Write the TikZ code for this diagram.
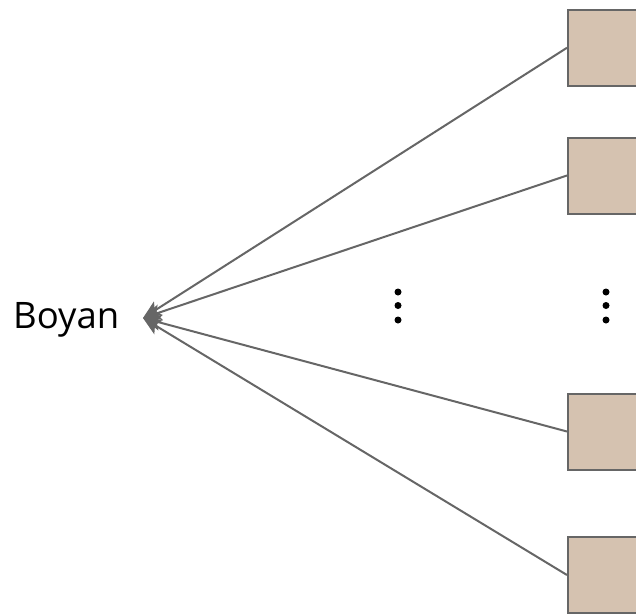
\documentclass[tikz,border=0pt]{standalone}
\usepackage{fontspec}
\setmainfont{Open Sans}
\usetikzlibrary{arrows.meta}
\definecolor{linegray}{HTML}{666666}
\definecolor{boxfill}{HTML}{D5C2B0}
\tikzset{
  itembox/.style={draw=linegray, line width=2pt, fill=boxfill, minimum width=76pt, minimum height=76pt, inner sep=0pt},
  link/.style={draw=linegray, line width=2pt, -{Stealth[length=18pt,width=16pt,inset=4pt,fill=linegray]}},
  vdot/.style={circle, fill=black, inner sep=0pt, minimum size=7pt}
}
\begin{document}
\begin{tikzpicture}[x=1pt,y=-1pt]
\useasboundingbox (0,0) rectangle (636,614);
\node[itembox] (b1) at (606,47.75) {};
\node[itembox] (b2) at (606,175.5) {};
\node[itembox] (b3) at (606,431.5) {};
\node[itembox] (b4) at (606,575) {};
\node[anchor=base west, inner sep=0pt, font=\fontsize{36.5}{40}\selectfont] (boyan) at (13,328.5) {Boyan};
\coordinate (tip) at (143,318);
\draw[link] (b1.west) -- (tip);
\draw[link] (b2.west) -- (tip);
\draw[link] (b3.west) -- (tip);
\draw[link] (b4.west) -- (tip);
\node[vdot] (d1) at (398,292) {};
\node[vdot] (d2) at (398,305.5) {};
\node[vdot] (d3) at (398,320) {};
\node[vdot] (e1) at (606,292) {};
\node[vdot] (e2) at (606,305.5) {};
\node[vdot] (e3) at (606,320) {};
\end{tikzpicture}
\end{document}
